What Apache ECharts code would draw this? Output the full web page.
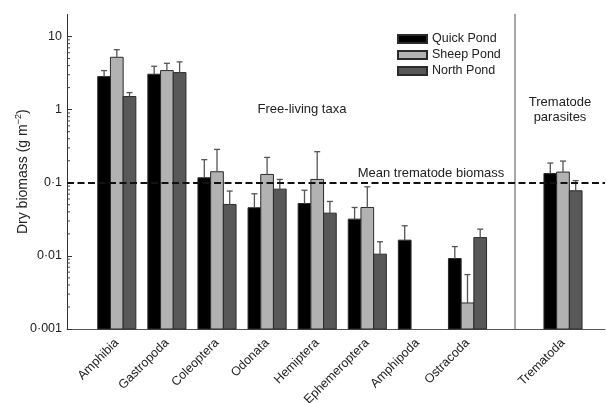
<!DOCTYPE html>
<html><head><meta charset="utf-8">
<script src="https://cdn.jsdelivr.net/npm/echarts@6/dist/echarts.min.js"></script>
<style>html,body{margin:0;padding:0;background:#fff}#c{width:607px;height:403px}</style>
</head><body><div id="c"></div>
<script>
// ---- data ----
const freeLivingTaxa = ['Amphibia','Gastropoda','Coleoptera','Odonata','Hemiptera','Ephemeroptera','Amphipoda','Ostracoda'];
const parasiteTaxa = ['Trematoda'];
const ponds = ['Quick Pond','Sheep Pond','North Pond'];
// mean dry biomass (g m^-2), free-living taxa then Trematoda
const quickPond = [2.83, 3.05, 0.117, 0.0455, 0.052, 0.0318, 0.0164, 0.0092, 0.134];
const sheepPond = [5.2, 3.42, 0.1415, 0.130, 0.111, 0.0459, null, 0.00227, 0.14];
const northPond = [1.51, 3.21, 0.0505, 0.0818, 0.0384, 0.01055, null, 0.0178, 0.0777];
// upper end of error bars
const quickPondUpper = [3.42, 3.92, 0.207, 0.0707, 0.079, 0.0459, 0.0258, 0.0134, 0.186];
const sheepPondUpper = [6.6, 4.3, 0.286, 0.222, 0.266, 0.088, null, 0.00555, 0.198];
const northPondUpper = [1.71, 4.5, 0.077, 0.111, 0.0555, 0.0156, null, 0.0232, 0.107];
const yTickValues = [0.001, 0.01, 0.1, 1, 10];
const yTickLabels = ['0·001', '0·01', '0·1', '1', '10'];
const meanTrematodeBiomass = 0.1;
const yMin = 0.001, yMax = 20;

// ---- chart ----
const FONT = 'Liberation Sans, Arial, sans-serif';
const pondValues = [quickPond, sheepPond, northPond];
const pondUpper = [quickPondUpper, sheepPondUpper, northPondUpper];
const pondColors = ['#000000', '#b2b2b2', '#585858'];
const minorTicks = [];
yTickValues.forEach(d => { for (let m = 2; m <= 9; m++) { const v = +(m * d).toPrecision(3); if (v < yMax) minorTicks.push(v); } });

function barRender(slot) {
  return function (params, api) {
    const i = api.value(0), v = api.value(1), up = api.value(2);
    const p = api.coord([i, v]);
    const cs = params.coordSys;
    const bottom = cs.y + cs.height;
    const bw = 12.7;
    const cx = p[0] + (slot - 1) * bw;
    const children = [{
      type: 'rect',
      shape: { x: cx - bw / 2, y: p[1], width: bw, height: bottom - p[1] },
      style: { fill: api.visual('color'), stroke: '#2b2b2b', lineWidth: 1 }
    }];
    if (up != null && !isNaN(up)) {
      const t = api.coord([i, up]);
      children.push(
        { type: 'line', shape: { x1: cx, y1: p[1], x2: cx, y2: t[1] }, style: { stroke: '#555', lineWidth: 1.3 } },
        { type: 'line', shape: { x1: cx - 3, y1: t[1], x2: cx + 3, y2: t[1] }, style: { stroke: '#555', lineWidth: 1.3 } }
      );
    }
    return { type: 'group', children };
  };
}

const series = [];
const nFree = freeLivingTaxa.length;
ponds.forEach((name, slot) => {
  [[0, nFree, 1, 1], [nFree, nFree + parasiteTaxa.length, 2, 2]].forEach(([a, b, xi, yi]) => {
    const data = [];
    for (let k = a; k < b; k++) {
      if (pondValues[slot][k] != null) data.push([k - a, pondValues[slot][k], pondUpper[slot][k]]);
    }
    series.push({
      type: 'custom', name, xAxisIndex: xi, yAxisIndex: yi,
      itemStyle: { color: pondColors[slot], borderColor: '#2b2b2b', borderWidth: 1 },
      encode: { x: 0, y: 1 },
      renderItem: barRender(slot),
      data, silent: true
    });
  });
});
// minor log ticks on the y axis
series.push({
  type: 'custom', xAxisIndex: 0, yAxisIndex: 0, silent: true,
  data: minorTicks.map(v => [0, v]), encode: { x: 0, y: 1 },
  renderItem: (params, api) => {
    const p = api.coord([api.value(0), api.value(1)]);
    return { type: 'line', shape: { x1: p[0], y1: p[1], x2: p[0] + 3, y2: p[1] }, style: { stroke: '#444', lineWidth: 1 } };
  }
});
series.push({
  type: 'line', xAxisIndex: 0, yAxisIndex: 0, data: [], silent: true,
  markLine: {
    silent: true, symbol: ['none', 'none'], z: 10,
    label: { show: false },
    lineStyle: { type: [7, 3.5], width: 1.9, color: '#111' },
    data: [{ yAxis: meanTrematodeBiomass }]
  }
});

function yLabel(v) {
  const idx = yTickValues.findIndex(t => Math.abs(Math.log10(t) - Math.log10(v)) < 1e-6);
  return idx >= 0 ? yTickLabels[idx] : '';
}

const gridTop = 14.5, gridH = 314.5;
const gridBase = { top: gridTop, height: gridH, containLabel: false, outerBoundsMode: 'none' };
const option = {
  animation: false,
  backgroundColor: '#fff',
  textStyle: { fontFamily: FONT },
  grid: [
    Object.assign({ left: 67, width: 538 }, gridBase),
    Object.assign({ left: 91.75, width: 400.8 }, gridBase),
    Object.assign({ left: 514.3, width: 97.4 }, gridBase)
  ],
  xAxis: [
    { type: 'value', gridIndex: 0, min: 0, max: 1, axisLine: { show: true, lineStyle: { color: '#555', width: 1 } },
      axisTick: { show: false }, axisLabel: { show: false }, splitLine: { show: false } },
    { type: 'category', gridIndex: 1, data: freeLivingTaxa, axisLine: { show: false }, axisTick: { show: false },
      axisLabel: { interval: 0, rotate: 45, fontSize: 12.5, color: '#222', margin: 12, fontFamily: FONT } },
    { type: 'category', gridIndex: 2, data: parasiteTaxa, axisLine: { show: false }, axisTick: { show: false },
      axisLabel: { interval: 0, rotate: 45, fontSize: 12.5, color: '#222', margin: 12, fontFamily: FONT } }
  ],
  yAxis: [
    { type: 'log', gridIndex: 0, min: yMin, max: yMax, position: 'left',
      name: '{a|Dry biomass (g m}{s|−2}{a|)}', nameLocation: 'middle', nameGap: 35, nameMoveOverlap: false,
      nameTextStyle: { rich: { a: { fontSize: 14, color: '#222', fontFamily: FONT, lineHeight: 18 },
                               s: { fontSize: 9, color: '#222', fontFamily: FONT, verticalAlign: 'top', lineHeight: 18 } } },
      axisLine: { show: true, lineStyle: { color: '#333', width: 1 } },
      axisTick: { show: true, inside: true, length: 5, lineStyle: { color: '#333' } },
      axisLabel: { formatter: yLabel, fontSize: 12.5, color: '#222', margin: 5, fontFamily: FONT, showMaxLabel: false },
      splitLine: { show: false } },
    { type: 'log', gridIndex: 1, min: yMin, max: yMax, show: false },
    { type: 'log', gridIndex: 2, min: yMin, max: yMax, position: 'left',
      axisLine: { show: true, lineStyle: { color: '#8a8a8a', width: 1.5 } },
      axisTick: { show: false }, axisLabel: { show: false }, splitLine: { show: false } }
  ],
  legend: {
    data: ponds, orient: 'vertical', left: 392, top: 27, icon: 'rect',
    itemWidth: 29, itemHeight: 8, itemGap: 2, selectedMode: false,
    textStyle: { fontSize: 12.5, color: '#222', lineHeight: 14, fontFamily: FONT }
  },
  graphic: [
    { type: 'text', x: 302, y: 109, silent: true,
      style: { text: 'Free-living taxa', font: '13px ' + FONT, fill: '#222', align: 'center', verticalAlign: 'middle' } },
    { type: 'text', x: 431, y: 173, silent: true,
      style: { text: 'Mean trematode biomass', font: '13px ' + FONT, fill: '#222', align: 'center', verticalAlign: 'middle' } },
    { type: 'text', x: 560, y: 110, silent: true,
      style: { text: 'Trematode\nparasites', font: '13px ' + FONT, lineHeight: 15, fill: '#222', align: 'center', verticalAlign: 'middle' } }
  ],
  series
};
const chart = echarts.init(document.getElementById('c'), null, { renderer: 'canvas' });
chart.setOption(option);
</script>
</body></html>
